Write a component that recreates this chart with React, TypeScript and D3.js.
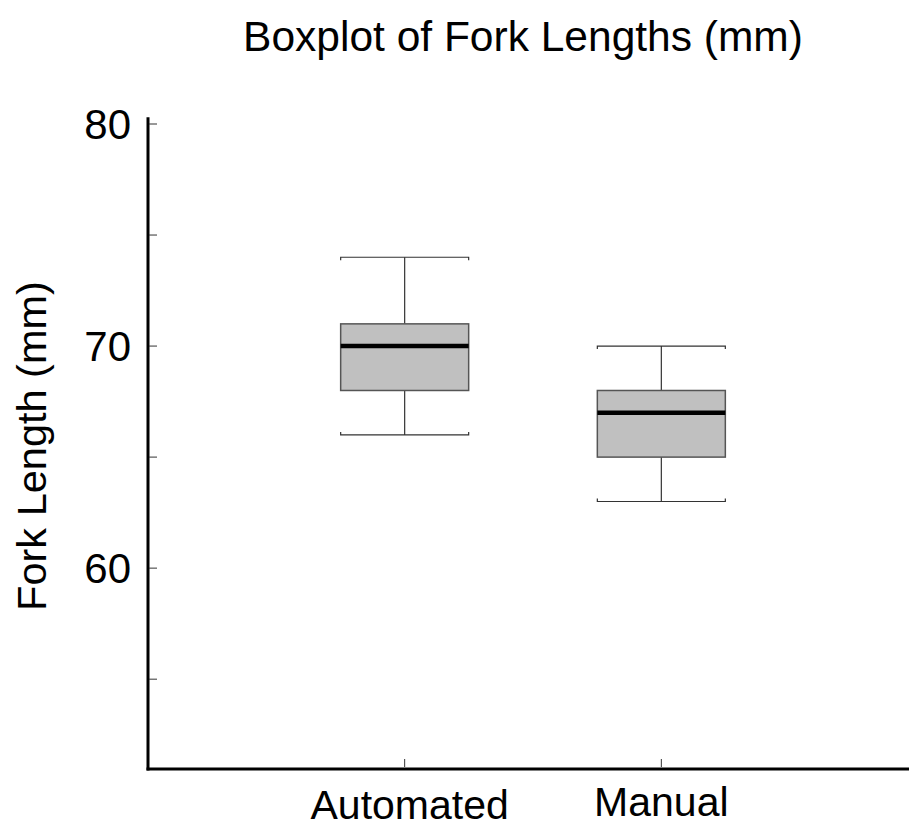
import React, { useEffect, useRef } from 'react'
import * as d3 from 'd3'

const categories = ['Automated', 'Manual']
const whiskerLow = [66, 63]
const q1 = [68, 65]
const medians = [70, 67]
const q3 = [71, 68]
const whiskerHigh = [74, 70]
const majorTicks = [60, 70, 80]
const minorTicks = [55, 65, 75]

export default function App() {
  const svgRef = useRef(null)

  useEffect(() => {
    const svg = d3.select(svgRef.current)
    svg.selectAll('*').remove()

    const width = 910
    const height = 829
    const font = '"Liberation Sans", Arial, sans-serif'

    const yScale = d3.scaleLinear().domain([51, 80]).range([768, 124])
    const xScale = d3.scaleLinear().domain([0, 3]).range([148, 918])

    svg.attr('width', width).attr('height', height)

    // title
    svg
      .append('text')
      .attr('x', 523)
      .attr('y', 51)
      .attr('text-anchor', 'middle')
      .style('font-family', font)
      .style('font-size', '42.5px')
      .text('Boxplot of Fork Lengths (mm)')

    // y label
    svg
      .append('text')
      .attr('transform', 'translate(46,446) rotate(-90)')
      .attr('text-anchor', 'middle')
      .style('font-family', font)
      .style('font-size', '41.5px')
      .text('Fork Length (mm)')

    const g = svg.append('g')

    // boxes
    categories.forEach((c, i) => {
      const cx = xScale(i + 1)
      const half = 64
      const cap = g.append('g').attr('stroke', '#333').attr('stroke-width', 1.2).attr('fill', 'none')
      // whisker lines
      cap.append('line').attr('x1', cx).attr('x2', cx).attr('y1', yScale(whiskerHigh[i])).attr('y2', yScale(q3[i]))
      cap.append('line').attr('x1', cx).attr('x2', cx).attr('y1', yScale(q1[i])).attr('y2', yScale(whiskerLow[i]))
      // caps with small end ticks
      const yh = yScale(whiskerHigh[i])
      const yl = yScale(whiskerLow[i])
      cap.append('path').attr('d', `M${cx - half},${yh + 3}V${yh}H${cx + half}V${yh + 3}`)
      cap.append('path').attr('d', `M${cx - half},${yl - 3}V${yl}H${cx + half}V${yl - 3}`)

      g.append('rect')
        .attr('x', cx - half)
        .attr('y', yScale(q3[i]))
        .attr('width', half * 2)
        .attr('height', yScale(q1[i]) - yScale(q3[i]))
        .attr('fill', '#c0c0c0')
        .attr('stroke', '#555')
        .attr('stroke-width', 1.5)

      g.append('line')
        .attr('x1', cx - half)
        .attr('x2', cx + half)
        .attr('y1', yScale(medians[i]))
        .attr('y2', yScale(medians[i]))
        .attr('stroke', '#000')
        .attr('stroke-width', 4.5)
    })

    // y axis
    svg
      .append('line')
      .attr('x1', 148)
      .attr('x2', 148)
      .attr('y1', yScale(80.3))
      .attr('y2', 770.5)
      .attr('stroke', '#000')
      .attr('stroke-width', 3)

    majorTicks.concat(minorTicks).forEach((t) => {
      svg
        .append('line')
        .attr('x1', 149)
        .attr('x2', 157)
        .attr('y1', yScale(t))
        .attr('y2', yScale(t))
        .attr('stroke', '#333')
        .attr('stroke-width', 1)
    })

    majorTicks.forEach((t) => {
      svg
        .append('text')
        .attr('x', 131)
        .attr('y', yScale(t))
        .attr('dy', '0.36em')
        .attr('text-anchor', 'end')
        .style('font-family', font)
        .style('font-size', '42px')
        .text(t)
    })

    // x axis
    svg
      .append('line')
      .attr('x1', 146.5)
      .attr('x2', 909)
      .attr('y1', 769)
      .attr('y2', 769)
      .attr('stroke', '#000')
      .attr('stroke-width', 3)

    categories.forEach((c, i) => {
      const cx = xScale(i + 1)
      svg
        .append('line')
        .attr('x1', cx)
        .attr('x2', cx)
        .attr('y1', 767)
        .attr('y2', 759)
        .attr('stroke', '#333')
        .attr('stroke-width', 1)
      svg
        .append('text')
        .attr('x', i === 0 ? cx + 5 : cx)
        .attr('y', i === 0 ? 819 : 816)
        .attr('text-anchor', 'middle')
        .style('font-family', font)
        .style('font-size', '41px')
        .text(c)
    })
  }, [])

  return <svg ref={svgRef} style={{ position: 'absolute', left: 0, top: 0 }}></svg>
}
